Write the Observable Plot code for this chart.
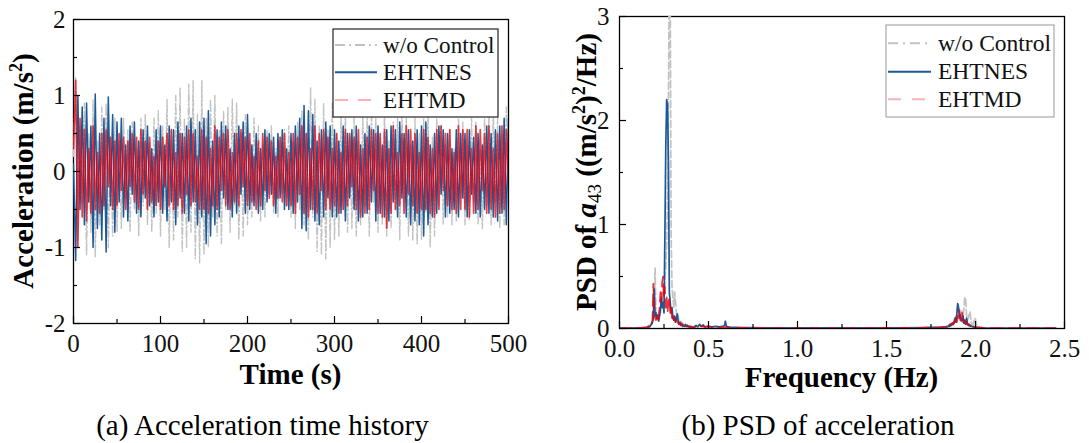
<!DOCTYPE html>
<html><head><meta charset="utf-8">
<script src="https://cdn.jsdelivr.net/npm/d3@7"></script>
<script src="https://cdn.jsdelivr.net/npm/@observablehq/plot@0.6"></script>
<style>
body{margin:0;background:#fff;}
#wrap{position:relative;width:1089px;height:443px;overflow:hidden;font-family:'Liberation Serif','Times New Roman','DejaVu Serif',serif;}
#wrap svg{position:absolute;top:0;}
#wrap svg text{font-family:'Liberation Serif','Times New Roman','DejaVu Serif',serif;}
</style></head><body><div id="wrap"></div>
<script>
// ---------- shared series info ----------
const seriesNames = ["w/o Control", "EHTNES", "EHTMD"];
const seriesColors = ["#c2c2c2", "#1b5a97", "#e3000f"];

// ---------- (a) acceleration time history, sampled every 2.5 s ----------
const dtHistory = 2.5;
const accWo = [
  0.2, 1.25, -0.9, 0.6, -0.4, 0.9, -1.1, 0.5, -0.8, 0.95, -1.13, 0.4, -0.7, 0.85, -0.5, 0.9, -1.0, 0.45, -0.85, 0.7,
  -0.8, 0.4, -0.75, 0.7, -0.35, 0.55, -0.8, 0.65, -0.5, 0.3, -0.85, 0.7, -0.45, 0.75, -0.7, 0.4, -0.8, 0.7, -0.55, 0.8,
  -0.85, 0.6, -0.5, 0.95, -1.0, 0.55, -0.9, 1.0, -0.6, 1.1, -1.05, 0.7, -1.0, 1.15, -0.8, 1.2, -1.15, 0.75, -1.2, 1.2,
  -1.1, 0.7, -1.0, 0.95, -0.6, 1.0, -0.85, 0.55, -0.95, 0.8, -0.5, 0.85, -0.8, 0.95, -0.45, 0.9, -0.9, 0.5, -0.85, 0.75,
  -0.7, 0.4, -0.6, 0.7, -0.3, 0.6, -0.65, 0.35, -0.6, 0.55, -0.3, 0.6, -0.55, 0.3, -0.6, 0.45, -0.3, 0.55, -0.45, 0.6,
  -0.6, 0.4, -0.75, 0.65, -0.5, 0.8, -0.7, 0.5, -0.9, 1.1, -0.6, 0.95, -1.05, 0.6, -1.1, 0.9, -1.15, 0.55, -1.0, 0.9,
  -0.9, 0.5, -0.85, 0.75, -0.5, 0.8, -0.8, 0.45, -0.75, 0.7, -0.85, 0.4, -0.7, 0.75, -0.45, 0.7, -0.85, 0.8, -0.4, 0.7,
  -0.8, 0.45, -0.7, 0.8, -0.85, 0.4, -0.75, 0.65, -0.5, 0.7, -0.9, 0.75, -0.4, 0.7, -0.85, 0.35, -0.9, 0.7, -0.95, 0.5,
  -0.9, 0.7, -0.55, 0.8, -1.0, 0.45, -0.85, 0.7, -0.45, 0.6, -0.7, 0.35, -0.6, 0.55, -0.7, 0.3, -0.65, 0.7, -0.35, 0.65,
  -0.7, 0.35, -0.65, 0.7, -0.4, 0.65, -0.7, 0.3, -0.75, 0.7, -0.45, 0.75, -0.7, 0.8, -0.4, 0.7, -0.75, 0.5, -0.7, 0.85,
  -0.3
];
const accNes = [
  0.1, -1.17, 1.0, -0.5, 0.85, -0.7, 0.9, -0.4, 0.6, -1.0, 1.02, -0.75, 0.5, -0.9, 0.7, -1.06, 0.98, -0.45, 0.75, -0.8,
  0.65, -0.4, 0.7, -0.6, 0.35, -0.65, 0.6, -0.3, 0.65, -0.55, 0.4, -0.6, 0.55, -0.35, 0.6, -0.45, 0.3, -0.6, 0.55, -0.4,
  0.6, -0.55, 0.35, -0.65, 0.6, -0.4, 0.55, -0.7, 0.65, -0.35, 0.5, -0.55, 0.6, -0.65, 0.7, -0.4, 0.55, -0.7, 0.65, -0.6,
  0.7, -0.95, 0.8, -0.85, 0.4, -0.7, 0.55, -0.6, 0.65, -0.35, 0.6, -0.5, 0.3, -0.6, 0.5, -0.55, 0.6, -0.3, 0.65, -0.55,
  0.75, -0.5, 0.35, -0.45, 0.5, -0.55, 0.3, -0.5, 0.55, -0.4, 0.5, -0.3, 0.45, -0.55, 0.5, -0.35, 0.55, -0.5, 0.3, -0.5,
  0.5, -0.55, 0.6, -0.4, 0.7, -0.75, 0.87, -0.78, 0.8, -0.5, 0.75, -0.65, 0.4, -0.7, 0.55, -0.6, 0.65, -0.35, 0.6, -0.6,
  0.55, -0.6, 0.4, -0.55, 0.6, -0.65, 0.5, -0.35, 0.55, -0.5, 0.6, -0.65, 0.35, -0.6, 0.5, -0.55, 0.6, -0.4, 0.55, -0.65,
  0.6, -0.55, 0.35, -0.6, 0.55, -0.65, 0.6, -0.4, 0.55, -0.6, 0.65, -0.35, 0.5, -0.6, 0.55, -0.7, 0.4, -0.65, 0.55, -0.7,
  0.6, -0.85, 0.65, -0.7, 0.35, -0.6, 0.5, -0.55, 0.6, -0.3, 0.55, -0.6, 0.5, -0.55, 0.3, -0.5, 0.55, -0.6, 0.5, -0.35,
  0.5, -0.6, 0.55, -0.3, 0.45, -0.55, 0.5, -0.6, 0.35, -0.5, 0.6, -0.55, 0.5, -0.6, 0.55, -0.65, 0.6, -0.55, 0.7, -0.7,
  0.7
];
const accTmd = [
  0.3, 1.2, -1.0, 0.7, -0.6, 0.55, -0.65, 0.3, -0.55, 0.6, -0.5, 0.25, -0.55, 0.5, -0.45, 0.55, -0.2, 0.45, -0.5, 0.4,
  -0.45, 0.5, -0.25, 0.45, -0.5, 0.4, -0.2, 0.5, -0.4, 0.45, -0.5, 0.55, -0.3, 0.4, -0.5, 0.45, -0.4, 0.2, -0.45, 0.4,
  -0.5, 0.45, -0.2, 0.5, -0.45, 0.55, -0.5, 0.25, -0.45, 0.5, -0.55, 0.45, -0.3, 0.55, -0.45, 0.5, -0.4, 0.2, -0.5, 0.55,
  -0.5, 0.45, -0.55, 0.3, -0.45, 0.6, -0.5, 0.45, -0.25, 0.5, -0.45, 0.55, -0.5, 0.25, -0.4, 0.5, -0.45, 0.55, -0.2, 0.45,
  -0.45, 0.5, -0.4, 0.2, -0.5, 0.4, -0.45, 0.5, -0.25, 0.45, -0.35, 0.4, -0.45, 0.2, -0.35, 0.45, -0.4, 0.5, -0.45, 0.25,
  -0.45, 0.5, -0.55, 0.45, -0.3, 0.6, -0.55, 0.5, -0.6, 0.3, -0.5, 0.6, -0.55, 0.5, -0.25, 0.55, -0.5, 0.45, -0.5, 0.3,
  -0.45, 0.5, -0.55, 0.25, -0.5, 0.55, -0.45, 0.5, -0.2, 0.45, -0.5, 0.55, -0.6, 0.3, -0.55, 0.45, -0.5, 0.55, -0.25, 0.5,
  -0.55, 0.5, -0.6, 0.55, -0.75, 0.3, -0.55, 0.6, -0.5, 0.25, -0.45, 0.5, -0.55, 0.6, -0.3, 0.55, -0.45, 0.5, -0.55, 0.25,
  -0.5, 0.55, -0.5, 0.45, -0.55, 0.3, -0.6, 0.55, -0.5, 0.6, -0.25, 0.5, -0.45, 0.55, -0.5, 0.25, -0.55, 0.6, -0.5, 0.55,
  -0.5, 0.55, -0.6, 0.3, -0.55, 0.6, -0.5, 0.55, -0.25, 0.5, -0.55, 0.6, -0.5, 0.3, -0.6, 0.5, -0.55, 0.6, -0.5, 0.55,
  -0.2
];
const timeTicks = [0, 100, 200, 300, 400, 500];
const timeMinorTicks = [50, 150, 250, 350, 450];
const accTicks = [-2, -1, 0, 1, 2];
const accMinorTicks = [-1.5, -0.5, 0.5, 1.5];

// ---------- (b) PSD ----------
const psdAFreq = [0, 0.05, 0.1, 0.12, 0.14, 0.145];
const psdAWo  = [0.003, 0.004, 0.006, 0.008, 0.01, 0.01];
const psdANes = [0.005, 0.005, 0.006, 0.007, 0.008, 0.006];
const psdATmd = [0.004, 0.005, 0.005, 0.006, 0.008, 0.01];
// first mode band, 0.150 ... 0.420 Hz every 0.005 Hz
const psdLowStart = 0.15, psdBandStep = 0.005;
const psdLowWo = [
  0.01, 0.015, 0.02, 0.03, 0.02, 0.04, 0.05, 0.08, 0.12, 0.3, 0.58, 0.15, 0.1, 0.12, 0.08, 0.2, 0.15, 0.3, 0.25, 0.4,
  0.3, 0.45, 0.6, 0.8, 1.3, 2.2, 3.4, 3.2, 0.9, 0.4, 0.3, 0.2, 0.35, 0.25, 0.15, 0.1, 0.12, 0.06, 0.05, 0.07,
  0.04, 0.05, 0.03, 0.04, 0.03, 0.02, 0.03, 0.02, 0.03, 0.02, 0.02, 0.015, 0.02, 0.01, 0.015
];
const psdLowNes = [
  0.005, 0.01, 0.01, 0.02, 0.015, 0.03, 0.04, 0.06, 0.1, 0.38, 0.12, 0.15, 0.1, 0.13, 0.07, 0.12, 0.18, 0.3, 0.2, 0.25,
  0.15, 0.9, 1.75, 2.2, 2.15, 1.6, 0.35, 0.25, 0.15, 0.2, 0.1, 0.08, 0.12, 0.06, 0.1, 0.14, 0.05, 0.04, 0.06, 0.03,
  0.04, 0.02, 0.03, 0.02, 0.04, 0.02, 0.03, 0.015, 0.02, 0.01, 0.02, 0.01, 0.015, 0.01, 0.01
];
const psdLowTmd = [
  0.01, 0.01, 0.02, 0.015, 0.03, 0.02, 0.05, 0.07, 0.43, 0.15, 0.1, 0.08, 0.12, 0.06, 0.1, 0.2, 0.35, 0.25, 0.45, 0.5,
  0.3, 0.4, 0.2, 0.3, 0.15, 0.25, 0.3, 0.15, 0.2, 0.1, 0.15, 0.08, 0.1, 0.06, 0.08, 0.05, 0.07, 0.04, 0.05, 0.03,
  0.05, 0.03, 0.04, 0.02, 0.03, 0.02, 0.03, 0.02, 0.02, 0.015, 0.02, 0.01, 0.015, 0.01, 0.01
];
const psdBFreq = [0.425, 0.43, 0.44, 0.45, 0.46, 0.47, 0.48, 0.5, 0.52, 0.54, 0.56, 0.58, 0.59, 0.595, 0.6, 0.62,
  0.65, 0.7, 0.75, 0.8, 0.9, 1.0, 1.1, 1.2, 1.3, 1.4, 1.5, 1.6, 1.7, 1.75, 1.8, 1.825];
const psdBWo = [0.015, 0.01, 0.02, 0.012, 0.015, 0.01, 0.012, 0.01, 0.008, 0.01, 0.008, 0.01, 0.008, 0.01, 0.008, 0.006,
  0.006, 0.005, 0.005, 0.004, 0.004, 0.004, 0.004, 0.004, 0.004, 0.004, 0.005, 0.005, 0.006, 0.007, 0.008, 0.01];
const psdBNes = [0.02, 0.03, 0.015, 0.04, 0.02, 0.035, 0.015, 0.02, 0.015, 0.02, 0.015, 0.02, 0.03, 0.07, 0.02, 0.012,
  0.01, 0.008, 0.008, 0.007, 0.006, 0.006, 0.006, 0.006, 0.006, 0.006, 0.007, 0.007, 0.008, 0.01, 0.012, 0.015];
const psdBTmd = [0.02, 0.015, 0.03, 0.02, 0.025, 0.02, 0.015, 0.02, 0.012, 0.015, 0.01, 0.012, 0.01, 0.01, 0.01, 0.008,
  0.007, 0.006, 0.006, 0.005, 0.005, 0.005, 0.005, 0.005, 0.005, 0.005, 0.006, 0.006, 0.007, 0.008, 0.01, 0.012];
// second mode band, 1.830 ... 2.030 Hz every 0.005 Hz
const psdHighStart = 1.83;
const psdHighWo = [
  0.01, 0.015, 0.02, 0.02, 0.03, 0.025, 0.035, 0.04, 0.05, 0.04, 0.06, 0.08, 0.07, 0.12, 0.2, 0.1, 0.15, 0.08, 0.12, 0.18,
  0.1, 0.2, 0.3, 0.28, 0.12, 0.08, 0.1, 0.15, 0.16, 0.06, 0.05, 0.04, 0.06, 0.1, 0.09, 0.04, 0.03, 0.02, 0.02, 0.015, 0.01
];
const psdHighNes = [
  0.01, 0.01, 0.02, 0.015, 0.03, 0.02, 0.04, 0.03, 0.05, 0.04, 0.07, 0.1, 0.06, 0.14, 0.24, 0.2, 0.1, 0.13, 0.07, 0.09,
  0.12, 0.05, 0.08, 0.04, 0.1, 0.05, 0.03, 0.04, 0.02, 0.03, 0.02, 0.015, 0.02, 0.01, 0.015, 0.01, 0.01, 0.008, 0.01, 0.006, 0.005
];
const psdHighTmd = [
  0.01, 0.02, 0.015, 0.03, 0.02, 0.04, 0.03, 0.05, 0.04, 0.06, 0.05, 0.08, 0.12, 0.06, 0.1, 0.15, 0.18, 0.08, 0.12, 0.15,
  0.06, 0.1, 0.05, 0.07, 0.04, 0.05, 0.03, 0.04, 0.02, 0.03, 0.02, 0.02, 0.015, 0.01, 0.015, 0.01, 0.01, 0.008, 0.01, 0.005, 0.005
];
const psdCFreq = [2.035, 2.04, 2.05, 2.07, 2.1, 2.15, 2.2, 2.25, 2.3, 2.35, 2.4, 2.45];
const psdCWo  = [0.01, 0.008, 0.006, 0.005, 0.004, 0.004, 0.003, 0.003, 0.003, 0.003, 0.003, 0.003];
const psdCNes = [0.008, 0.006, 0.005, 0.005, 0.004, 0.004, 0.004, 0.004, 0.004, 0.004, 0.004, 0.004];
const psdCTmd = [0.006, 0.006, 0.005, 0.005, 0.005, 0.005, 0.005, 0.005, 0.005, 0.005, 0.005, 0.005];

const freqTicks = [0, 0.5, 1.0, 1.5, 2.0, 2.5];
const freqMinorTicks = [0.25, 0.75, 1.25, 1.75, 2.25];
const psdTicks = [0, 1, 2, 3];
const psdMinorTicks = [0.5, 1.5, 2.5];

// ---------- build tables ----------
const histDash = ["7,2.5,1.5,2.5", null, null];
const psdDash = ["7,3", null, "12,6"];
const histWidth = [1.4, 1.5, 1.7];
const histOpacity = [1, 1, 0.75];
const psdOpacity = [1, 1, 0.8];

const histSeries = [accWo, accNes, accTmd].map((vals, k) =>
  vals.map((v, i) => ({t: i * dtHistory, v, s: seriesNames[k]})));

const lowFreq = psdLowWo.map((_, i) => +(psdLowStart + i * psdBandStep).toFixed(3));
const highFreq = psdHighWo.map((_, i) => +(psdHighStart + i * psdBandStep).toFixed(3));
const freqAll = [...psdAFreq, ...lowFreq, ...psdBFreq, ...highFreq, ...psdCFreq];
const psdSeries = [
  [...psdAWo, ...psdLowWo, ...psdBWo, ...psdHighWo, ...psdCWo],
  [...psdANes, ...psdLowNes, ...psdBNes, ...psdHighNes, ...psdCNes],
  [...psdATmd, ...psdLowTmd, ...psdBTmd, ...psdHighTmd, ...psdCTmd]
].map((vals, k) => vals.map((v, i) => ({f: freqAll[i], v, s: seriesNames[k]})));

const FONT = "'Liberation Serif','Times New Roman','DejaVu Serif',serif";
const wrap = document.getElementById("wrap");

function axesMarks(xMajor, xMinor, yMajor, yMinor, xFmt, yFmt, xPad, yPad) {
  return [
    Plot.axisX(xMajor, {tickSize: 7, dy: -7, tickFormat: () => "", strokeWidth: 1.2, label: null}),
    Plot.axisX(xMinor, {tickSize: 4, dy: -4, tickFormat: () => "", strokeWidth: 1.2, label: null}),
    Plot.axisX(xMajor, {tickSize: 0, tickPadding: xPad, tickFormat: xFmt, label: null, fill: "#111"}),
    Plot.axisY(yMajor, {tickSize: 7, dx: 7, tickFormat: () => "", strokeWidth: 1.2, label: null}),
    Plot.axisY(yMinor, {tickSize: 4, dx: 4, tickFormat: () => "", strokeWidth: 1.2, label: null}),
    Plot.axisY(yMajor, {tickSize: 0, tickPadding: yPad, tickFormat: yFmt, label: null, fill: "#111"})
  ];
}

// (a)
const plotA = Plot.plot({
  width: 540, height: 400,
  marginLeft: 73, marginRight: 32, marginTop: 19, marginBottom: 77,
  style: {fontFamily: FONT, fontSize: "25px", background: "transparent", color: "#000"},
  x: {domain: [0, 500], label: null},
  y: {domain: [-2, 2], label: null},
  marks: [
    Plot.frame({stroke: "#000", strokeWidth: 1.3}),
    ...histSeries.map((rows, k) => Plot.lineY(rows, {
      x: "t", y: "v", stroke: seriesColors[k], strokeWidth: histWidth[k],
      strokeOpacity: histOpacity[k], strokeDasharray: histDash[k], clip: true
    })),
    ...axesMarks(timeTicks, timeMinorTicks, accTicks, accMinorTicks, d => String(d), d => String(d), 11, 8)
  ]
});
plotA.style.left = "0px";
wrap.appendChild(plotA);

// (b)
const plotB = Plot.plot({
  width: 549, height: 400,
  marginLeft: 79, marginRight: 25, marginTop: 16, marginBottom: 72,
  style: {fontFamily: FONT, fontSize: "25px", background: "transparent", color: "#000"},
  x: {domain: [0, 2.5], label: null},
  y: {domain: [0, 3], label: null},
  marks: [
    Plot.frame({stroke: "#000", strokeWidth: 1.3}),
    ...psdSeries.map((rows, k) => Plot.lineY(rows, {
      x: "f", y: "v", stroke: seriesColors[k], strokeWidth: 1.7,
      strokeOpacity: psdOpacity[k], strokeDasharray: psdDash[k], clip: true
    })),
    ...axesMarks(freqTicks, freqMinorTicks, psdTicks, psdMinorTicks, d3.format(".1f"), d => String(d), 11, 10)
  ]
});
plotB.style.left = "540px";
wrap.appendChild(plotB);

// ---------- overlay: axis titles, legends, captions ----------
const ov = d3.select(wrap).append("svg")
  .attr("width", 1089).attr("height", 443)
  .style("left", "0px").style("pointer-events", "none")
  .style("font-family", FONT);

function sup(t, txt, size, shift) {
  t.append("tspan").attr("font-size", size).attr("dy", -shift).text(txt);
}

// y title (a)
const ya = ov.append("text").attr("transform", "translate(33,171) rotate(-90)")
  .attr("text-anchor", "middle").attr("font-size", 29).attr("font-weight", "bold");
ya.append("tspan").text("Acceleration (m/s");
sup(ya, "2", 18, 11);
ya.append("tspan").attr("dy", 11).text(")");

// y title (b)
const yb = ov.append("text").attr("transform", "translate(596,172) rotate(-90)")
  .attr("text-anchor", "middle").attr("font-size", 29).attr("font-weight", "bold");
yb.append("tspan").text("PSD of ");
yb.append("tspan").attr("font-style", "italic").text("a");
yb.append("tspan").attr("font-size", 19).attr("font-weight", "normal").attr("dy", 5).text("43");
yb.append("tspan").attr("dy", -5).text(" ((m/s");
sup(yb, "2", 18, 11);
yb.append("tspan").attr("dy", 11).text(")");
sup(yb, "2", 18, 11);
yb.append("tspan").attr("dy", 11).text("/Hz)");

// x titles
ov.append("text").attr("x", 290.5).attr("y", 384).attr("text-anchor", "middle")
  .attr("font-size", 29).attr("font-weight", "bold").text("Time (s)");
ov.append("text").attr("x", 841.5).attr("y", 387).attr("text-anchor", "middle")
  .attr("font-size", 29).attr("font-weight", "bold").text("Frequency (Hz)");

// captions
ov.append("text").attr("x", 262.5).attr("y", 435).attr("text-anchor", "middle")
  .attr("font-size", 29).text("(a) Acceleration time history");
ov.append("text").attr("x", 818).attr("y", 435).attr("text-anchor", "middle")
  .attr("font-size", 29).text("(b) PSD of acceleration");

// legends
const legendDash = [["10,4,2,4", null, "13,10"], ["10,5,2,5", null, "13,11"]];
const legendOpacity = [1, 1, 0.3];
const legends = [
  {box: [333, 29, 165, 88], stroke: "#222", rows: [45, 72.3, 100], x1: 335, x2: 377, tx: 383, fs: 23.2, dash: legendDash[0]},
  {box: [886, 25, 168, 92], stroke: "#a8a8a8", rows: [43.3, 71.7, 99.3], x1: 888, x2: 931, tx: 938, fs: 23.5, dash: legendDash[1]}
];
legends.forEach(L => {
  ov.append("rect").attr("x", L.box[0]).attr("y", L.box[1]).attr("width", L.box[2]).attr("height", L.box[3])
    .attr("fill", "#fff").attr("stroke", L.stroke).attr("stroke-width", 1.2);
  seriesNames.forEach((name, k) => {
    ov.append("line").attr("x1", L.x1).attr("x2", L.x2).attr("y1", L.rows[k]).attr("y2", L.rows[k])
      .attr("stroke", seriesColors[k]).attr("stroke-width", 2).attr("stroke-opacity", legendOpacity[k])
      .attr("stroke-dasharray", L.dash[k]);
    ov.append("text").attr("x", L.tx).attr("y", L.rows[k] + 7.5).attr("font-size", L.fs).attr("fill", "#111").text(name);
  });
});
</script></body></html>
